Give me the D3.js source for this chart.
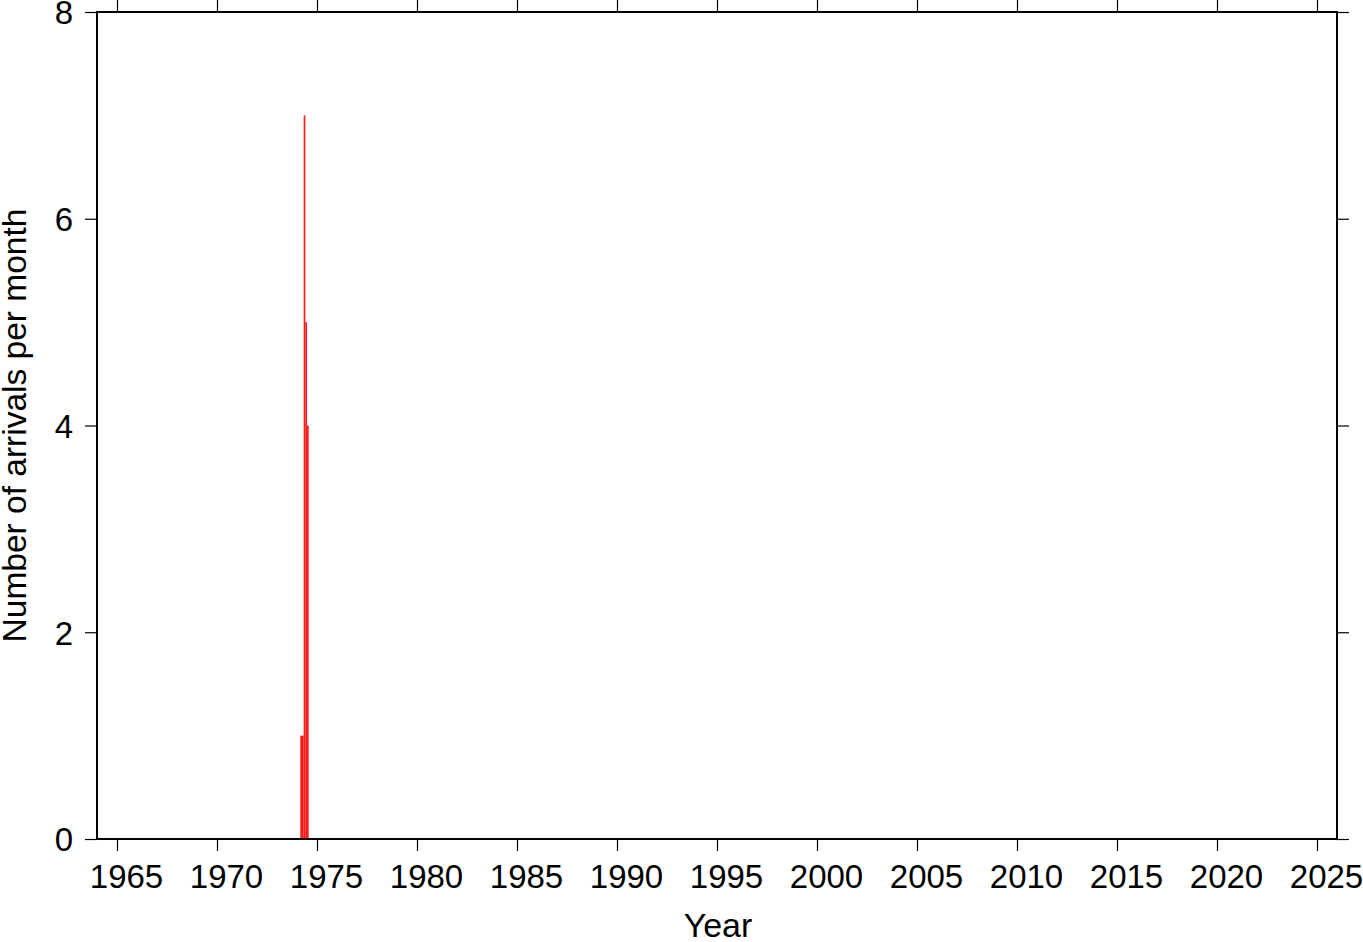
<!DOCTYPE html>
<html><head><meta charset="utf-8">
<script src="https://cdn.jsdelivr.net/npm/d3@7"></script>
<style>
html,body{margin:0;padding:0;background:#fff;}
svg{display:block;font-family:"Liberation Sans",Arial,Helvetica,sans-serif;}
</style></head>
<body>
<svg id="chart" width="1363" height="942"></svg>
<script>
// Data: monthly arrival counts (bins given as year, month)
const binYears = [1974, 1974, 1974, 1974, 1974];
const binMonths = [3, 4, 5, 6, 7];
const counts = [1, 1, 7, 5, 4];
const xTickValues = [1965,1970,1975,1980,1985,1990,1995,2000,2005,2010,2015,2020,2025];
const yTickValues = [0,2,4,6,8];
const xTitle = "Year";
const yTitle = "Number of arrivals per month";

const svg = d3.select("#chart");
const L = 97, R = 1337, T = 12, B = 839;
const x = d3.scaleLinear().domain([1964, 2026]).range([L, R]);
const y = d3.scaleLinear().domain([0, 8]).range([B, T]);

const bins = counts.map((c, i) => ({
  start: binYears[i] + (binMonths[i] - 1) / 12,
  end: binYears[i] + binMonths[i] / 12,
  value: c
}));

svg.append("g").selectAll("rect").data(bins).join("rect")
  .attr("x", d => x(d.start))
  .attr("width", d => x(d.end) - x(d.start))
  .attr("y", d => y(d.value))
  .attr("height", d => y(0) - y(d.value))
  .attr("fill", "#ff1a1a");

const fs = 33;
function styleAxis(g, showLabels) {
  g.select(".domain").remove();
  g.selectAll(".tick line").attr("stroke", "#000").attr("stroke-width", 1.2);
  g.selectAll(".tick text").attr("fill", "#000").style("font-size", fs + "px")
    .style("font-family", "'Liberation Sans',Arial,Helvetica,sans-serif");
  if (!showLabels) g.selectAll(".tick text").remove();
}

svg.append("g").attr("transform", `translate(0,${B})`)
  .call(d3.axisBottom(x).tickValues(xTickValues).tickFormat(d3.format("d")).tickSize(12))
  .call(g => styleAxis(g, true))
  .call(g => g.selectAll(".tick text").attr("y", 49).attr("dy", 0).attr("x", 9));
svg.append("g").attr("transform", `translate(0,${T})`)
  .call(d3.axisTop(x).tickValues(xTickValues).tickSize(12))
  .call(g => styleAxis(g, false));
svg.append("g").attr("transform", `translate(${L},0)`)
  .call(d3.axisLeft(y).tickValues(yTickValues).tickFormat(d3.format("d")).tickSize(12))
  .call(g => styleAxis(g, true))
  .call(g => g.selectAll(".tick text").attr("x", -24).attr("dy", "0.36em"));
svg.append("g").attr("transform", `translate(${R},0)`)
  .call(d3.axisRight(y).tickValues(yTickValues).tickSize(12))
  .call(g => styleAxis(g, false));

svg.append("rect").attr("x", L).attr("y", T).attr("width", R - L).attr("height", B - T)
  .attr("fill", "none").attr("stroke", "#000").attr("stroke-width", 2);

svg.append("text").attr("x", (L + R) / 2 + 1).attr("y", 937).attr("text-anchor", "middle")
  .style("font-size", "34px").text(xTitle);
svg.append("text").attr("transform", `translate(26,${(T + B) / 2}) rotate(-90)`)
  .attr("text-anchor", "middle").style("font-size", "33.5px").text(yTitle);
</script>
</body></html>
